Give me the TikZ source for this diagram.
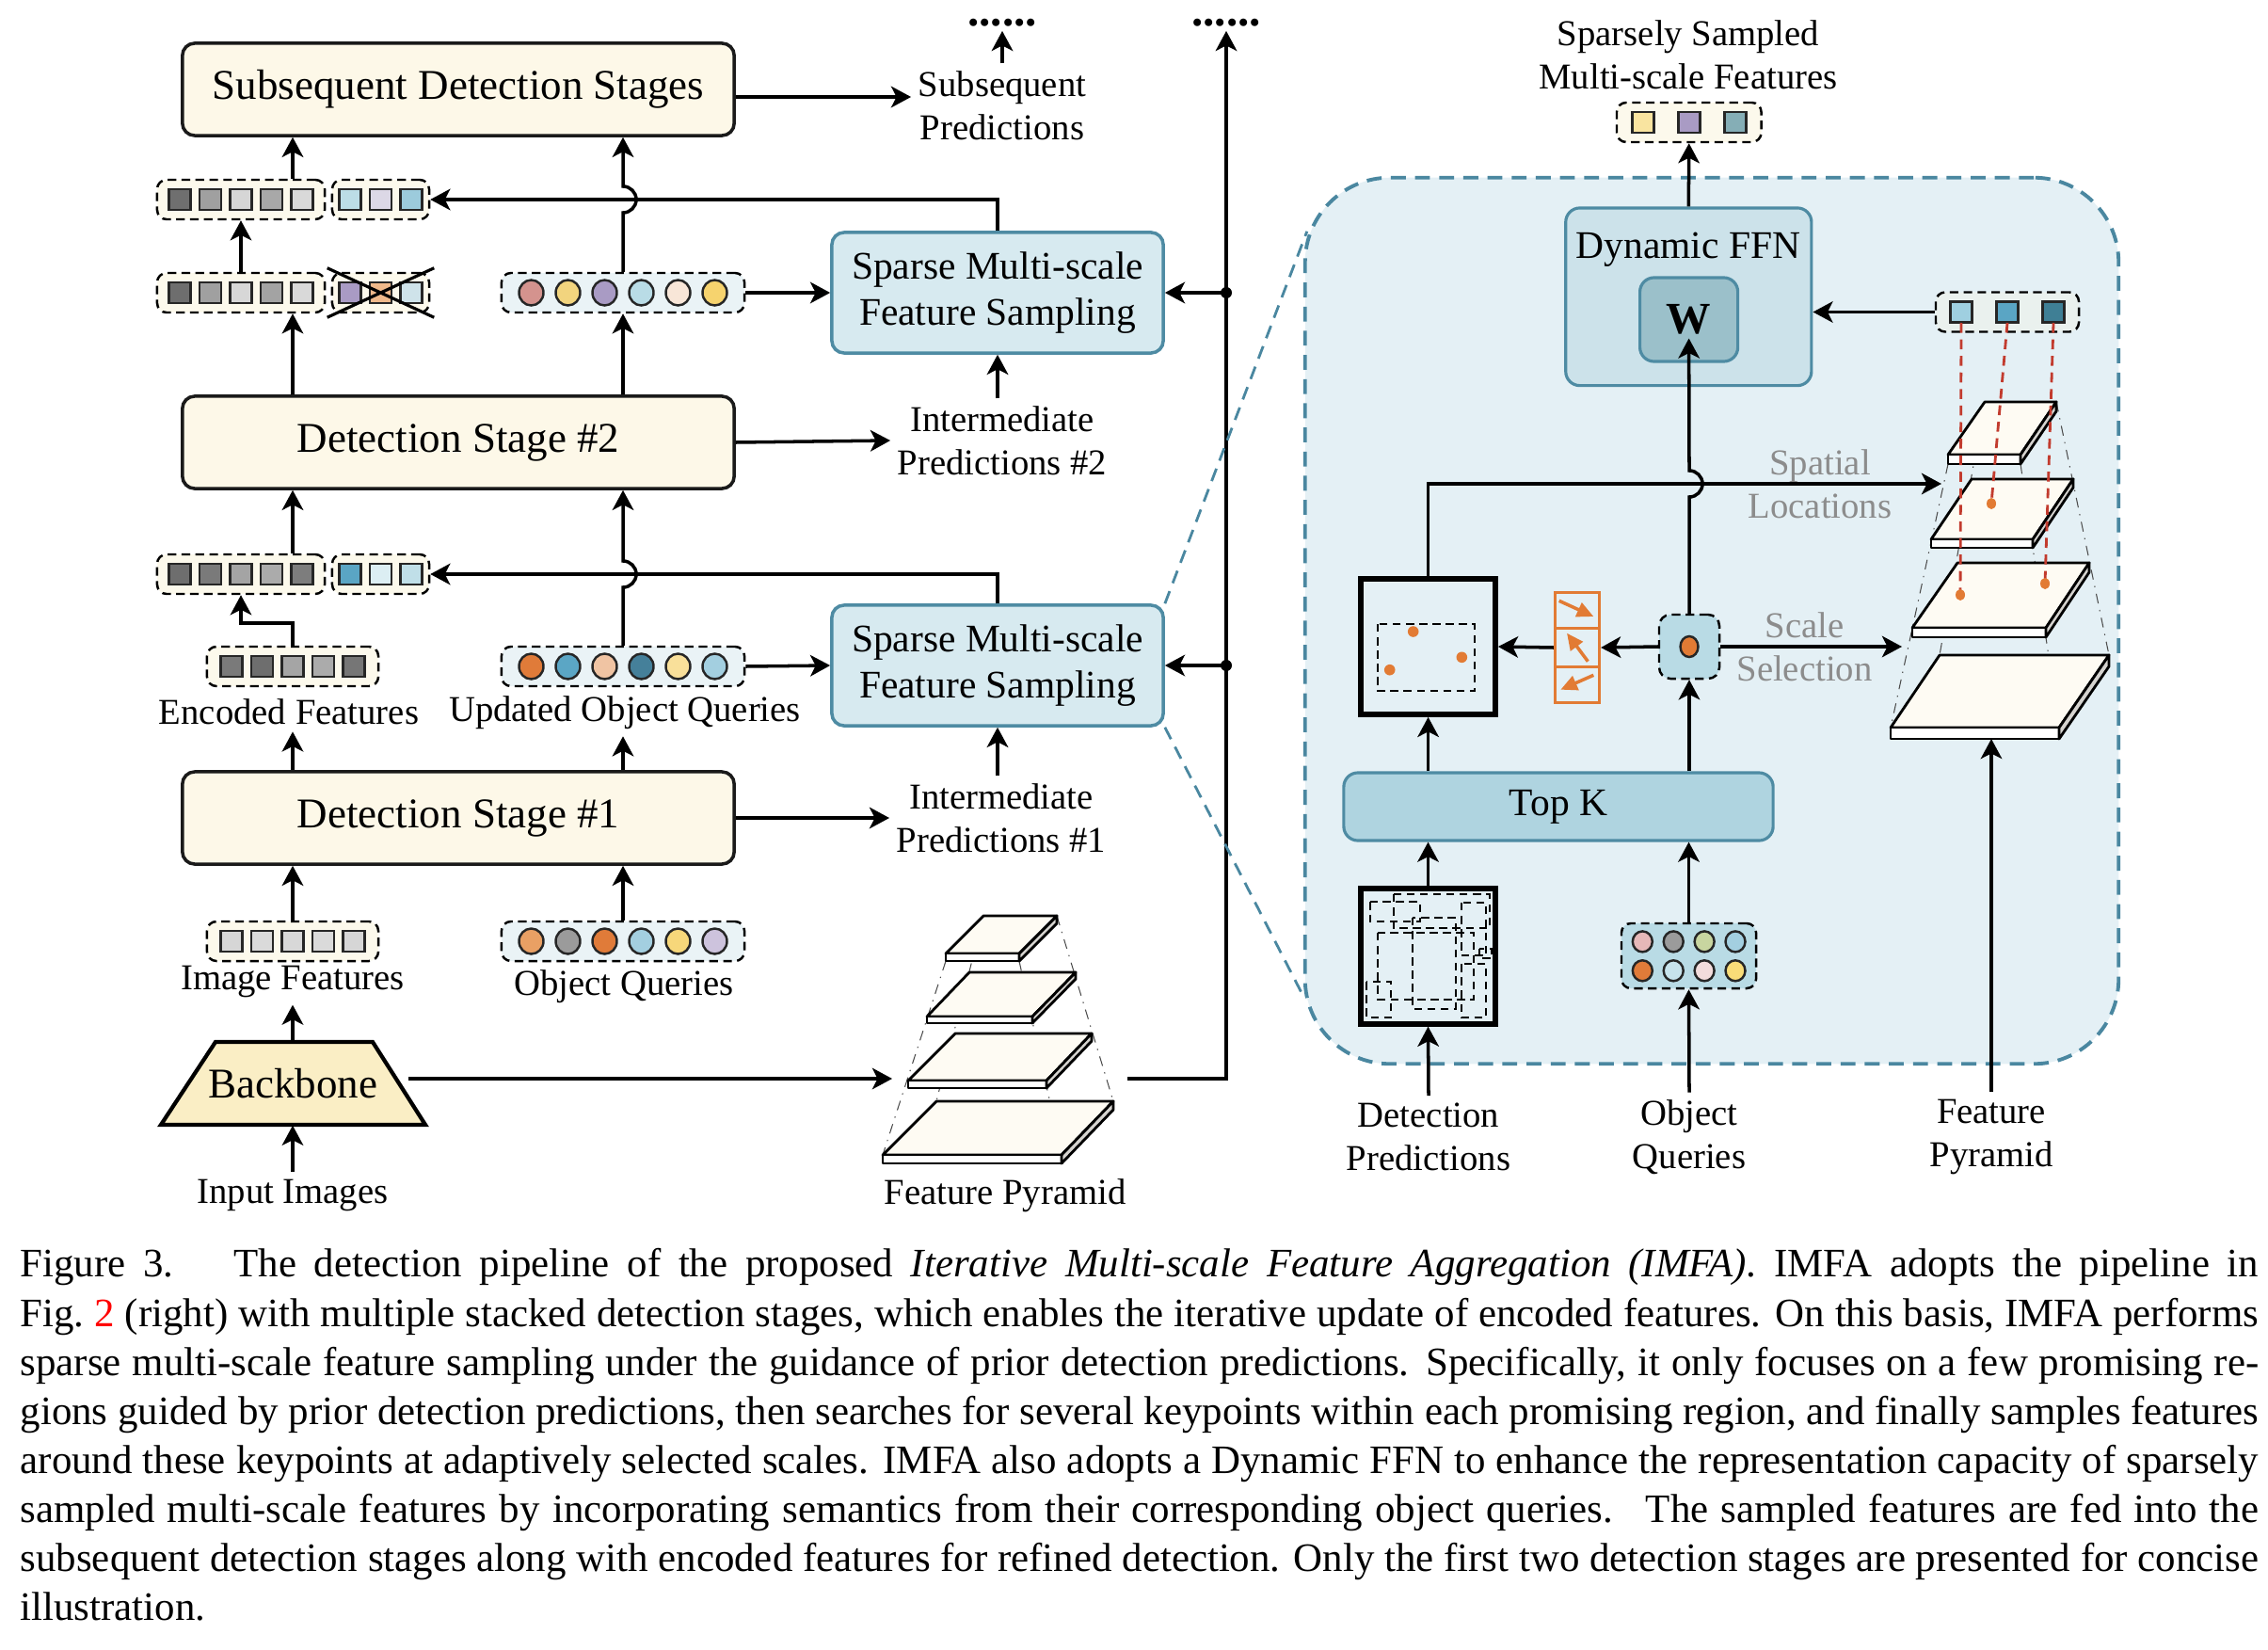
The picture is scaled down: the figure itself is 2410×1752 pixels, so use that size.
\documentclass[tikz,border=0pt]{standalone}
\usepackage{fontspec}
\setmainfont{Liberation Serif}
\usepackage{xcolor}
\usetikzlibrary{arrows.meta,positioning,calc}

\definecolor{stagefill}{HTML}{FDF8E8}
\definecolor{stagedraw}{HTML}{1A1A1A}
\definecolor{vecfill}{HTML}{FCF9EC}
\definecolor{qfill}{HTML}{EAF3F6}
\definecolor{smfill}{HTML}{D7EAF0}
\definecolor{smdraw}{HTML}{4E8BA3}
\definecolor{panelfill}{HTML}{E4F0F5}
\definecolor{paneldraw}{HTML}{4A87A0}
\definecolor{ffnfill}{HTML}{CCE2EA}
\definecolor{wfill}{HTML}{9BC0CA}
\definecolor{topkfill}{HTML}{AFD4E0}
\definecolor{qnfill}{HTML}{B9DBE5}
\definecolor{qfbg}{HTML}{EAF1EE}
\definecolor{bbfill}{HTML}{FAEEC5}
\definecolor{layerfill}{HTML}{FEFBF3}
\definecolor{layerside}{HTML}{D5D3CF}
\definecolor{offorange}{HTML}{E27B34}
\definecolor{samplered}{HTML}{C23B2E}
\definecolor{hintgray}{HTML}{8C8C8C}

\newlength\capw
\setlength\capw{23.77cm}

% row of square features: name, x, y, width, count, pitch, fill, colours
\newcommand{\sqvec}[8]{%
  \node[vecbox, fill=#7, minimum width=#4cm] (#1) at (#2,#3) {};
  \foreach \c [count=\i] in {#8} {
    \pgfmathsetmacro\dx{(\i-(#5+1)/2)*#6}
    \edef\tmp{\noexpand\definecolor{sqc}{HTML}{\c}}\tmp
    \draw[sqcell, fill=sqc] (#2+\dx-11.5,#3-11) rectangle (#2+\dx+11.5,#3+11);
  }
}
% row of six query circles: name, x, y, colours
\newcommand{\circvec}[4]{%
  \node[vecbox, fill=qfill, minimum width=2.58cm] (#1) at (#2,#3) {};
  \foreach \c [count=\i] in {#4} {
    \pgfmathsetmacro\dx{(\i-3.5)*39}
    \edef\tmp{\noexpand\definecolor{sqc}{HTML}{\c}}\tmp
    \draw[qdot, fill=sqc] (#2+\dx,#3) ellipse[x radius=13, y radius=13.5];
  }
}
% one pyramid level: TLx, TRx, BLx, BRx, top y, bottom y, thickness
\newcommand{\pyrlayer}[7]{%
  \draw[layer, fill=layerfill] (#1,#5) -- (#2,#5) -- (#4,#6) -- (#3,#6) -- cycle;
  \draw[layer, fill=white] (#3,#6) rectangle (#4,#6+#7);
  \draw[layer, fill=layerside] (#4,#6) -- (#2,#5) -- (#2,#5+#7) -- (#4,#6+#7) -- cycle;
}

\begin{document}
\begin{tikzpicture}[x=0.01cm, y=-0.01cm,
  arr/.style={-{Stealth[length=6pt,width=6.4pt,inset=1.6pt]}, line width=1pt},
  stagebox/.style={draw=stagedraw, fill=stagefill, line width=1pt, rounded corners=0.13cm,
    minimum width=5.86cm, minimum height=0.98cm, font=\fontsize{12.8}{15}\selectfont},
  sambox/.style={draw=smdraw, fill=smfill, line width=1pt, rounded corners=0.13cm,
    minimum width=3.52cm, minimum height=1.28cm, align=center, font=\fontsize{11.8}{14}\selectfont},
  vecbox/.style={draw, dash pattern=on 2.6pt off 1.6pt, line width=0.7pt, rounded corners=0.1cm,
    minimum height=0.42cm, inner sep=0pt},
  sqcell/.style={draw=black!85, line width=0.7pt},
  qdot/.style={draw=black!85, line width=0.7pt},
  lbl/.style={font=\fontsize{11}{13.2}\selectfont, align=center, inner sep=2pt},
  hint/.style={lbl, text=hintgray},
  layer/.style={draw=black, line width=0.8pt, line join=round},
  frustum/.style={dash dot, line width=0.3pt, black!70},
  zoomline/.style={draw=paneldraw, dash pattern=on 4pt off 2.6pt, line width=0.8pt},
  panelbox/.style={draw=paneldraw, fill=panelfill, dash pattern=on 4.5pt off 2.8pt, line width=1.1pt,
    rounded corners=0.9cm, minimum width=8.64cm, minimum height=9.41cm},
  ffnbox/.style={draw=smdraw, line width=0.9pt, rounded corners=0.15cm},
  detbox/.style={draw=black, line width=1.6pt, fill=panelfill, minimum width=1.43cm, minimum height=1.44cm},
  offbox/.style={draw=offorange, line width=1pt, minimum width=0.466cm, minimum height=1.174cm},
  offarr/.style={draw=offorange, line width=1pt, -{Triangle[length=5pt,width=4.5pt]}},
  samp/.style={draw=samplered, dash pattern=on 3pt off 2pt, line width=0.8pt},
  dots/.style={font=\fontsize{14}{14}\selectfont\bfseries, inner sep=1pt, anchor=base}
]
\path[use as bounding box] (0,0) rectangle (2410,1752);

% ---------------- left: stacked detection stages ----------------
\node[stagebox] (sds) at (487,95) {Subsequent Detection Stages};
\node[stagebox] (ds2) at (487,470) {Detection Stage \#2};
\node[stagebox] (ds1) at (487,869) {Detection Stage \#1};

\node[sambox] (sms2) at (1060,311) {Sparse Multi-scale\\Feature Sampling};
\node[sambox] (sms1) at (1060,707) {Sparse Multi-scale\\Feature Sampling};

\node[lbl] (subp) at (1065,112) {Subsequent\\Predictions};
\node[lbl] (ip2) at (1065,468) {Intermediate\\Predictions \#2};
\node[lbl] (ip1) at (1064,869) {Intermediate\\Predictions \#1};
\node[dots] (dots1) at (1065,28) {......};
\node[dots] (dots2) at (1303,28) {......};

% feature vectors
\sqvec{r1l}{256}{212}{1.78}{5}{32.5}{vecfill}{6F6F6F,A0A0A0,D6D6D6,A8A8A8,D9D9D9}
\sqvec{r1r}{404.5}{212}{1.03}{3}{32.5}{vecfill}{BCDDE6,DCD8E6,9CCBDC}
\sqvec{r2l}{256}{311}{1.78}{5}{32.5}{vecfill}{6E6E6E,A0A0A0,D7D7D7,A3A3A3,D9D9D9}
\sqvec{r2r}{404.5}{311}{1.03}{3}{32.5}{vecfill}{A99BC4,F0B98B,CFE3EA}
\draw[line width=0.9pt] ([shift={(-4,-4)}]r2r.north west) -- ([shift={(4,4)}]r2r.south east);
\draw[line width=0.9pt] ([shift={(4,-4)}]r2r.north east) -- ([shift={(-4,4)}]r2r.south west);
\sqvec{r3l}{256}{610}{1.78}{5}{32.5}{vecfill}{6E6E6E,7A7A7A,A4A4A4,ABABAB,7D7D7D}
\sqvec{r3r}{404.5}{610}{1.03}{3}{32.5}{vecfill}{5AA5C4,DCEEF3,C0DFE8}
\sqvec{enc}{311}{708}{1.82}{5}{32.5}{vecfill}{7A7A7A,6E6E6E,A5A5A5,ABABAB,767676}
\sqvec{imgf}{311}{1000}{1.82}{5}{32.5}{vecfill}{D6D6D6,DADADA,D8D8D8,DADADA,D6D6D6}

\circvec{uoq2}{662}{311}{D4938E,F2D47E,A99BC4,B9DCE6,F8E6D8,F6D36E}
\circvec{uoq1}{662}{708}{E07B39,5BA6C5,F0C4A3,45809A,F9E09A,A3CFE0}
\circvec{oq}{662}{1000}{E9A064,9B9B9B,E07B39,A3CFE0,F7D77A,CDC3DD}

\node[lbl] (encl) at (307,756) {Encoded Features};
\node[lbl] (uoql) at (664,757) {Updated Object Queries};
\node[lbl] (imgl) at (311,1043) {Image Features};
\node[lbl] (oql) at (663,1048) {Object Queries};
\node[lbl] (inl) at (311,1270) {Input Images};
\node[lbl] (fpl) at (1068,1270) {Feature Pyramid};

% backbone
\path[draw=black, fill=bbfill, line width=1.2pt, line join=miter]
  (229,1107) -- (396,1107) -- (452,1195) -- (171,1195) -- cycle;
\node[minimum width=2.44cm, minimum height=0.88cm, inner sep=0pt,
  font=\fontsize{12.8}{15}\selectfont] (bb) at (311,1151) {Backbone};

% feature pyramid (left)
\draw[frustum] (1045,973) -- (995,1170);
\draw[frustum] (1123,973) -- (1183,1170);
\draw[frustum] (1005,1021) -- (938,1227);
\draw[frustum] (1083,1021) -- (1128,1227);
\pyrlayer{995}{1183}{938}{1128}{1170}{1227}{9}
\pyrlayer{1015}{1160}{965}{1112}{1098}{1148}{8}
\pyrlayer{1030}{1143}{985}{1097}{1033}{1080}{7}
\pyrlayer{1045}{1123}{1005}{1083}{973}{1013}{8}
\coordinate (fpin) at (948,1146);
\coordinate (fpout) at (1198,1146);

% connectors, left
\draw[arr] (inl.north) -- (bb.south);
\draw[arr] (bb.north) -- (imgl.south);
\draw[arr] (imgf.north) -- (ds1.south -| imgf);
\draw[arr] (oq.north) -- (ds1.south -| oq);
\draw[arr] (ds1.north -| enc) -- (encl.south -| enc);
\draw[arr] (ds1.north -| uoq1) -- (uoql.south -| uoq1);
\draw[arr] (enc.north) -- ++(0,-24) -| (r3l.south);
\draw[arr] (uoq1.east) -- (sms1.west);
\draw[arr] (sms1.north) |- (r3r.east);
\coordinate (hopA) at (uoq1.north |- r3r.east);
\draw[arr] (uoq1.north) -- ([yshift=-0.14cm]hopA) arc[start angle=-90, end angle=90, radius=0.14cm]
  -- (ds2.south -| uoq1);
\draw[arr] (r3l.north -| enc) -- (ds2.south -| enc);
\draw[arr] (ds2.north -| enc) -- (r2l.south -| enc);
\draw[arr] (ds2.north -| uoq2) -- (uoq2.south);
\draw[arr] (r2l.north) -- (r1l.south);
\draw[arr] (uoq2.east) -- (sms2.west);
\draw[arr] (sms2.north) |- (r1r.east);
\coordinate (hopB) at (uoq2.north |- r1r.east);
\draw[arr] (uoq2.north) -- ([yshift=-0.14cm]hopB) arc[start angle=-90, end angle=90, radius=0.14cm]
  -- (sds.south -| uoq2);
\draw[arr] (r1l.north -| enc) -- (sds.south -| enc);
\draw[arr] ([yshift=-0.08cm]sds.east) -- ([yshift=-0.08cm]sds.east -| subp.west);
\draw[arr] (subp.north) -- (dots1.south);
\draw[arr] (ds2.east) -- (ip2.west);
\draw[arr] (ip2.north -| sms2) -- (sms2.south);
\draw[arr] (ds1.east) -- (ip1.west);
\draw[arr] (ip1.north -| sms1) -- (sms1.south);
\draw[arr] (bb.east |- fpin) -- (fpin);
\draw[arr] (fpout) -| (dots2.south);
\fill (sms2.east -| dots2) circle[radius=6];
\fill (sms1.east -| dots2) circle[radius=6];
\draw[arr] (sms2.east -| dots2) -- (sms2.east);
\draw[arr] (sms1.east -| dots2) -- (sms1.east);

% ---------------- right: zoomed sampling module ----------------
\node[panelbox] (panel) at (1819,659.5) {};
\draw[zoomline] (sms1.north east) -- ($(panel.north west)+(4,59)$);
\draw[zoomline] (sms1.south east) -- ($(panel.south west)+(0,-74)$);

% feature pyramid (right)
\draw[frustum] (2109,427) -- (2061,696);
\draw[frustum] (2185,427) -- (2241,696);
\draw[frustum] (2070,493) -- (2009,773);
\draw[frustum] (2147,493) -- (2188,773);
\pyrlayer{2061}{2241}{2009}{2188}{696}{773}{12}
\pyrlayer{2080}{2220}{2032}{2174}{598}{667}{10}
\pyrlayer{2095}{2203}{2052}{2160}{509}{573}{9}
\pyrlayer{2109}{2185}{2070}{2147}{427}{483}{10}

\node[ffnbox, fill=ffnfill, minimum width=2.61cm, minimum height=1.886cm] (dffn) at (1794.3,315.3) {};
\node[font=\fontsize{11.8}{14}\selectfont] (dffnt) at (1794,265) {Dynamic FFN};
\node[ffnbox, fill=wfill, minimum width=1.04cm, minimum height=0.89cm,
  font=\fontsize{13.5}{15}\selectfont\bfseries] (w) at (1794.6,339.5) {W};

\sqvec{ssf}{1794.75}{130}{1.535}{3}{49}{vecfill}{F9E4A0,A99BC4,85AEB6}
\node[lbl] (ssfl) at (1794,58) {Sparsely Sampled\\Multi-scale Features};
\sqvec{qf}{2133}{331.5}{1.52}{3}{49}{qfbg}{9FCFE0,5AA5C4,3F7F95}

% sampling points
\coordinate (qf1) at (2084,343);
\coordinate (qf2) at (2133,343);
\coordinate (qf3) at (2182,343);
\coordinate (sp1) at (2083,632);
\coordinate (sp2) at (2116,535);
\coordinate (sp3) at (2173,620);
\draw[samp] (qf1) -- (sp1);
\draw[samp] (qf2) -- (sp2);
\draw[samp] (qf3) -- (sp3);
\foreach \p in {sp1,sp2,sp3} \fill[offorange] (\p) ellipse[x radius=5, y radius=6];

% detection box with keypoints
\node[detbox] (det) at (1517.6,687) {};
\draw[dash pattern=on 2.4pt off 1.6pt, line width=0.6pt] (1464,663) rectangle (1567,734);
\fill[offorange] (1501.7,671) circle[radius=5.8];
\fill[offorange] (1553.3,698.3) circle[radius=5.8];
\fill[offorange] (1476.7,711.7) circle[radius=5.8];

% offsets
\node[offbox] (off) at (1676,688) {};
\draw[draw=offorange, line width=1pt] (1652.7,667.7) -- (1699.3,667.7);
\draw[draw=offorange, line width=1pt] (1652.7,708.3) -- (1699.3,708.3);
\draw[offarr] (1656.7,638.3) -- (1693.3,655);
\draw[offarr] (1687.3,702.7) -- (1665,672.7);
\draw[offarr] (1693.3,717.3) -- (1658.3,732.7);

% query node
\node[draw, dash pattern=on 2.6pt off 1.6pt, line width=0.7pt, fill=qnfill, rounded corners=0.12cm,
  minimum width=0.64cm, minimum height=0.68cm] (qn) at (1795,687) {};
\draw[qdot, fill=offorange] (qn.center) ellipse[x radius=9.5, y radius=11];

\node[ffnbox, fill=topkfill, minimum width=4.56cm, minimum height=0.72cm,
  font=\fontsize{11.8}{14}\selectfont] (topk) at (1656,857) {Top K};

% prior detection predictions
\node[detbox] (dp) at (1517.5,1015.8) {};
\begin{scope}[dash pattern=on 2.4pt off 1.6pt, line width=0.6pt]
  \draw (1455.7,958.3) rectangle (1509,979.3);
  \draw (1481,950) rectangle (1582.7,986);
  \draw (1552.7,959) rectangle (1579.3,1015);
  \draw (1501,975) rectangle (1546.7,1071.7);
  \draw (1464.3,991) rectangle (1566,1061.7);
  \draw (1571.7,1007.7) rectangle (1585,1018.3);
  \draw (1552.7,1024.3) rectangle (1579.3,1080.7);
  \draw (1451.7,1043.3) rectangle (1478.3,1080.7);
\end{scope}

% object query grid
\node[vecbox, fill=qnfill, minimum width=1.43cm, minimum height=0.69cm] (oqg) at (1794.5,1015.5) {};
\foreach \c [count=\i] in {E6B8B8,9B9B9B,C8D5A0,A3CFE0,E07B39,C7E3EC,F2DCDC,F9DC78} {
  \pgfmathsetmacro\gx{1745.3+mod(\i-1,4)*32.9}
  \pgfmathsetmacro\gy{\i>4 ? 1031.3 : 1000.4}
  \edef\tmp{\noexpand\definecolor{sqc}{HTML}{\c}}\tmp
  \draw[qdot, fill=sqc] (\gx,\gy) ellipse[x radius=10.5, y radius=11];
}

\node[lbl] (dpl) at (1518,1208) {Detection\\Predictions};
\node[lbl] (oqgl) at (1795,1208) {Object\\Queries};
\node[lbl] (fpl2) at (2116,1208) {Feature\\Pyramid};
\node[hint] (spl) at (1934,514) {Spatial\\Locations};
\node[hint] (scl) at (1917.5,687) {Scale\\Selection};

\coordinate (spin) at (2063,514);
\coordinate (scin) at (2021,687);
\coordinate (fpr) at (2116,785);

% connectors, right
\draw[arr] (dffn.north) -- (ssf.south);
\draw[arr] (qf.west) -- (qf.west -| dffn.east);
\draw[arr] (dpl.north) -- (dp.south);
\draw[arr] (oqgl.north) -- (oqg.south);
\draw[arr] (fpl2.north) -- (fpr);
\draw[arr] (dp.north) -- (topk.south -| dp);
\draw[arr] (oqg.north) -- (topk.south -| oqg);
\draw[arr] (topk.north -| det) -- (det.south);
\draw[arr] (topk.north -| qn) -- (qn.south);
\draw[arr] (qn.west) -- (off.east);
\draw[arr] (off.west) -- (det.east);
\draw[arr] (qn.east) -- (scin);
\draw[arr] (det.north) |- (spin);
\coordinate (hopC) at (qn.north |- spin);
\draw[arr] (qn.north) -- ([yshift=-0.14cm]hopC) arc[start angle=-90, end angle=90, radius=0.14cm]
  -- ([yshift=-0.2cm]w.center);

% ---------------- caption ----------------
\node[anchor=north west, inner sep=0pt, text width=\capw, align=left,
  font=\fontsize{12.2}{14.82}\selectfont] (cap) at (21,1326) {%
\spaceskip=0pt \xspaceskip=0pt
\hbox to \capw{Figure 3.\hspace{0.6em} The detection pipeline of the proposed \textit{Iterative Multi-scale Feature Aggregation (IMFA)}. IMFA adopts the pipeline in}
\hbox to \capw{Fig.~\textcolor{red}{2} (right) with multiple stacked detection stages, which enables the iterative update of encoded features. On this basis, IMFA performs}
\hbox to \capw{sparse multi-scale feature sampling under the guidance of prior detection predictions. Specifically, it only focuses on a few promising re-}
\hbox to \capw{gions guided by prior detection predictions, then searches for several keypoints within each promising region, and finally samples features}
\hbox to \capw{around these keypoints at adaptively selected scales. IMFA also adopts a Dynamic FFN to enhance the representation capacity of sparsely}
\hbox to \capw{sampled multi-scale features by incorporating semantics from their corresponding object queries.\hspace{0.3em} The sampled features are fed into the}
\hbox to \capw{subsequent detection stages along with encoded features for refined detection. Only the first two detection stages are presented for concise}
\hbox{illustration.}};
\end{tikzpicture}
\end{document}
